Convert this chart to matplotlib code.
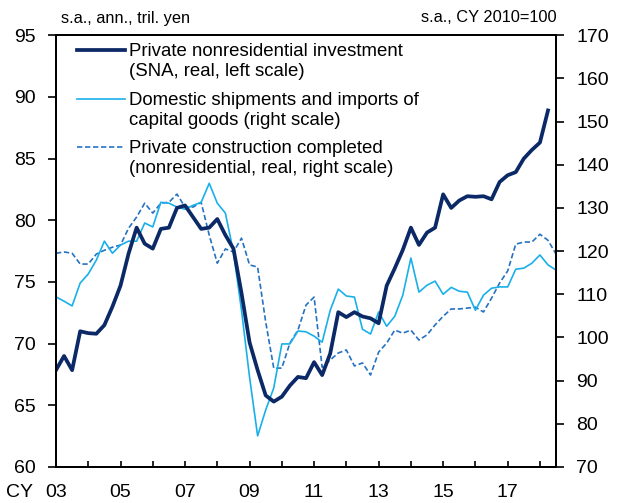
import numpy as np
import matplotlib
matplotlib.use("Agg")
import matplotlib.pyplot as plt
from matplotlib.transforms import ScaledTranslation

plt.rcParams['font.family'] = ['Liberation Sans', 'DejaVu Sans']

# Quarterly data, CY2003 Q1 onwards
invest = [67.85, 69.0, 67.85, 71.0, 70.85, 70.8, 71.5, 73.0, 74.7, 77.3,
          79.4, 78.1, 77.7, 79.3, 79.4, 81.0, 81.2, 80.25, 79.3, 79.4,
          80.1, 78.8, 77.7, 74.1, 70.1, 67.85, 65.8, 65.3, 65.7, 66.6,
          67.3, 67.2, 68.5, 67.45, 69.2, 72.55, 72.15, 72.55, 72.2, 72.05,
          71.65, 74.7, 76.1, 77.6, 79.4, 78.0, 79.0, 79.4, 82.1, 81.0,
          81.6, 81.95, 81.9, 81.95, 81.7, 83.1, 83.65, 83.9, 85.0, 85.7,
          86.3, 88.9]
shipments = [109.4, 108.4, 107.3, 112.6, 114.7, 117.9, 122.3, 119.5, 121.4, 122.3,
             122.3, 126.5, 125.6, 131.3, 131.1, 130.2, 129.7, 130.6, 131.3, 135.7,
             131.1, 128.8, 119.8, 106.3, 90.8, 77.2, 83.2, 88.3, 98.5, 98.5,
             101.5, 101.3, 100.3, 98.9, 106.3, 111.2, 109.6, 109.35, 101.9, 100.8,
             105.9, 102.6, 104.9, 109.8, 118.4, 110.5, 112.1, 113.05, 110.0, 111.6,
             110.7, 110.5, 106.3, 109.8, 111.4, 111.7, 111.7, 115.8, 116.05, 117.2,
             119.1, 116.8, 115.6]
construction = [119.5, 119.8, 119.5, 117.0, 117.0, 119.3, 120.2, 120.9, 121.4, 125.3,
                127.9, 131.1, 128.8, 131.1, 131.3, 133.2, 130.2, 130.2, 131.3, 123.7,
                117.2, 120.5, 119.8, 123.0, 116.8, 116.3, 103.6, 92.9, 92.9, 98.7,
                101.7, 107.5, 109.35, 93.1, 94.8, 96.4, 97.1, 93.4, 94.1, 91.3,
                96.6, 98.7, 101.7, 101.0, 101.7, 99.4, 100.6, 102.9, 104.9, 106.6,
                106.6, 106.8, 107.0, 105.9, 109.1, 112.6, 115.4, 121.6, 122.1, 122.1,
                123.9, 122.5, 119.3]

labels = ['Private nonresidential investment\n(SNA, real, left scale)',
          'Domestic shipments and imports of\ncapital goods (right scale)',
          'Private construction completed\n(nonresidential, real, right scale)']
xtick_years = list(range(2003, 2019))
xtick_labels = ['03' if y == 2003 else (f'{y % 100:02d}' if y % 2 == 1 else '') for y in xtick_years]

c_dark = '#0b2966'
c_light = '#19b0ea'
c_dash = '#2672c2'

t_inv = 2003 + np.arange(len(invest)) / 4
t_ship = 2003 + np.arange(len(shipments)) / 4
t_cons = 2003 + np.arange(len(construction)) / 4

fig = plt.figure(figsize=(6.22, 5.03), dpi=100)
ax = fig.add_axes([0.090, 0.0716, 0.804, 0.8584])
ax2 = ax.twinx()
ax.set_zorder(ax2.get_zorder() + 1)
ax.patch.set_visible(False)

ax2.plot(t_cons, construction, color=c_dash, lw=1.2, ls=(0, (3.2, 1.6)))
ax2.plot(t_ship, shipments, color=c_light, lw=1.2)
ax.plot(t_inv, invest, color=c_dark, lw=2.7)

ax.set_xlim(2003, 2018.5)
ax.set_ylim(60, 95)
ax2.set_ylim(70, 170)
ax.set_yticks(np.arange(60, 96, 5))
ax2.set_yticks(np.arange(70, 171, 10))
ax.set_xticks(xtick_years)
ax.set_xticklabels(xtick_labels)

for a in (ax, ax2):
    for s in a.spines.values():
        s.set_linewidth(1.4)
xpad = 12
ax.tick_params(axis='y', direction='out', length=5.5, width=1.2, labelsize=14, pad=9)
ax2.tick_params(axis='y', direction='out', length=5.5, width=1.2, labelsize=14, pad=9)
ax.tick_params(axis='x', direction='in', length=4, width=1.2, labelsize=14, pad=xpad)

# "CY" prefix on the first x label, same baseline as the tick labels
cy_tr = ax.get_xaxis_transform() + ScaledTranslation(-23 / 100, -xpad / 72, fig.dpi_scale_trans)
ax.text(2003, 0, 'CY', transform=cy_tr, ha='right', va='top', fontsize=14)

# unit headers
fig.text(61 / 622, 1 - 18 / 503, 's.a., ann., tril. yen', ha='left', va='center', fontsize=11.8)
fig.text(557 / 622, 1 - 18 / 503, 's.a., CY 2010=100', ha='right', va='center', fontsize=11.8)

# legend (drawn by hand to keep the handle on the first text line)
styles = [dict(color=c_dark, lw=2.7), dict(color=c_light, lw=1.2),
          dict(color=c_dash, lw=1.2, ls=(0, (3.2, 1.6)))]
leg_y = [50, 99, 147]
for lab, st, yp in zip(labels, styles, leg_y):
    yy = 1 - (yp - 35) / 432
    yc = 1 - (yp + 11.5 - 35) / 432
    ax.plot([(77 - 56) / 500, (125 - 56) / 500], [yy, yy], transform=ax.transAxes, **st)
    ax.text((129 - 56) / 500, yc, lab, transform=ax.transAxes, ha='left', va='center',
            fontsize=13.4, linespacing=1.2)

fig.savefig('out.png', dpi=100)
